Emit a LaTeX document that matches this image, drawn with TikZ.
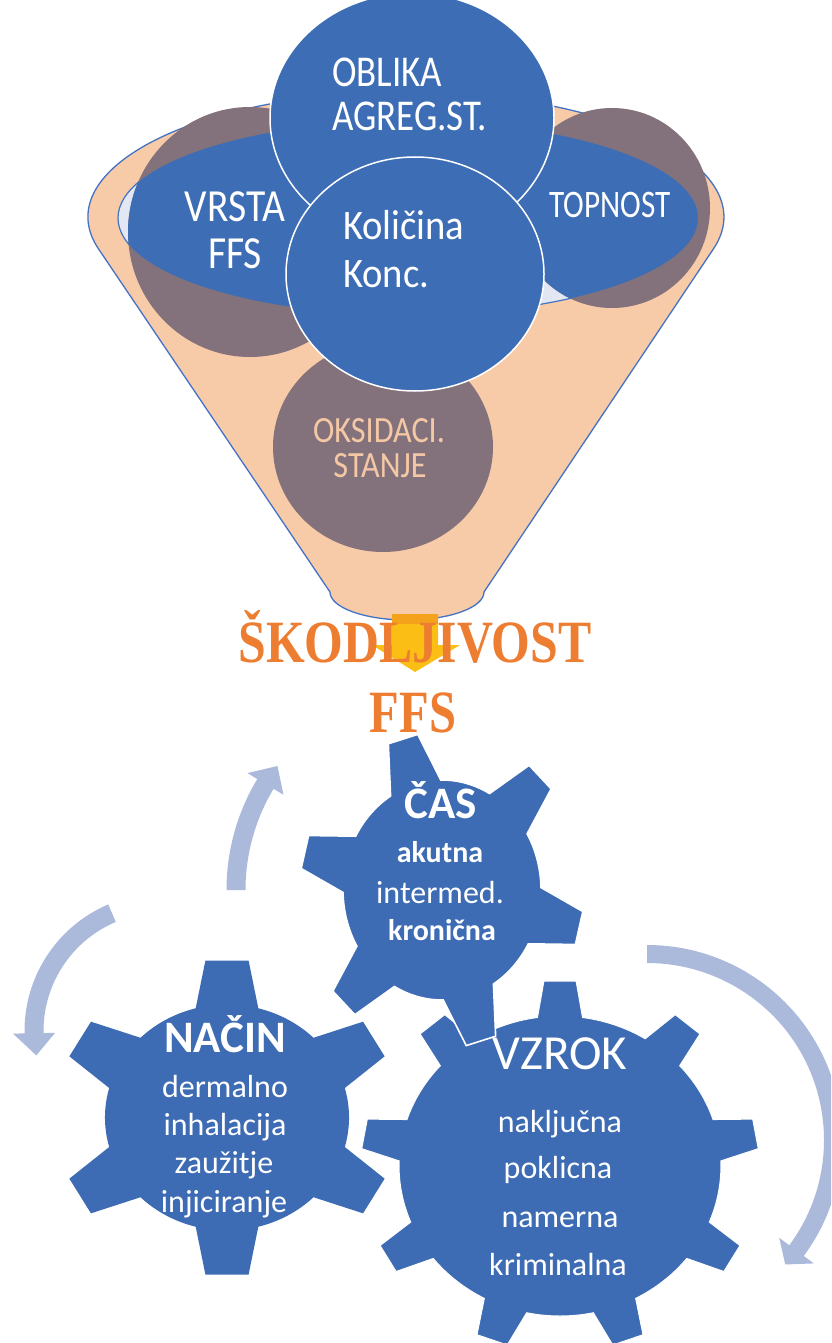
\documentclass[tikz,border=0pt]{standalone}
\usepackage{fontspec}
\setmainfont{Carlito}
\newfontfamily\titlefont{Liberation Serif}
\definecolor{cblue}{RGB}{61,109,180}
\definecolor{gblue}{RGB}{61,108,180}
\definecolor{peach}{RGB}{248,203,168}
\definecolor{mauve}{RGB}{131,114,123}
\definecolor{pale}{RGB}{226,231,243}
\definecolor{fline}{RGB}{68,114,196}
\definecolor{arrowblue}{RGB}{171,185,219}
\definecolor{titleorange}{RGB}{237,125,49}
\definecolor{gold}{RGB}{251,190,20}
\definecolor{goldtop}{RGB}{244,162,28}
\definecolor{oksitext}{RGB}{245,200,165}
\newcommand\fs[1]{\fontsize{#1}{#1}\selectfont}
\newcommand\cnd[2]{\scalebox{#1}[1]{#2}}
% gear: style, center, xscale, first angle, N, rb, R, base half width, outer half width
\newcommand\drawgear[9]{%
  \pgfmathsetmacro\gstep{360/#5}%
  \pgfmathsetmacro\gab{asin(#8/#6)}%
  \pgfmathsetmacro\gao{atan(#9/#7)}%
  \pgfmathsetmacro\gRp{veclen(#7,#9)}%
  \pgfmathsetmacro\gsecond{#4+\gstep}%
  \pgfmathsetmacro\glast{#4+(#5-1)*\gstep}%
  \pgfmathsetmacro\gstart{#4-\gab}%
  \begin{scope}[shift={(#2)},xscale=#3]
    \path[#1] (\gstart:#6) \foreach \t in {#4,\gsecond,...,\glast}{%
      -- ({\t-\gao}:\gRp) -- ({\t+\gao}:\gRp) -- ({\t+\gab}:#6)
      arc[start angle={\t+\gab}, end angle={\t+\gstep-\gab}, radius=#6]} -- cycle;
  \end{scope}}
% curved arrow: style, center, r, half width, start, head base, tip, head half width
\newcommand\curvarrow[8]{%
  \pgfmathsetmacro\aro{#3+#4}\pgfmathsetmacro\ari{#3-#4}%
  \pgfmathsetmacro\aho{#3+#8}\pgfmathsetmacro\ahi{#3-#8}%
  \begin{scope}[shift={(#2)}]
    \path[#1] (#5:\aro) arc[start angle=#5, end angle=#6, radius=\aro]
      -- (#6:\aho) -- (#7:#3) -- (#6:\ahi) -- (#6:\ari)
      arc[start angle=#6, end angle=#5, radius=\ari] -- cycle;
  \end{scope}}
\begin{document}
\begin{tikzpicture}[x=1pt,y=1pt,
  lbl/.style={inner sep=0pt, outer sep=0pt, text=white, anchor=base},
  lblw/.style={lbl, anchor=base west},
  gearfill/.style={fill=gblue},
  arrowfill/.style={fill=arrowblue}]
\useasboundingbox (0,0) rectangle (831,-1343);
\clip (0,0) rectangle (831,-1343);
\fill[white] (0,0) rectangle (831,-1343);

% ---------- funnel ----------
\path[fill=peach, draw=fline, line width=1.3pt]
  (98.6,-249) arc[start angle=194.85, end angle=-14.85, x radius=318, y radius=125]
  -- (484,-592) arc[start angle=0, end angle=-180, x radius=77, y radius=28] -- cycle;
\path[fill=pale, draw=fline, line width=1.2pt] (408,-218) ellipse[x radius=290, y radius=97];

% circles under the funnel
\fill[mauve] (250,-232) ellipse[x radius=122, y radius=125];
\fill[mauve] (612,-208) ellipse[x radius=98, y radius=100];
\fill[mauve] (383,-447) ellipse[x radius=110, y radius=105];
\begin{scope}
  \clip (408,-218) ellipse[x radius=290, y radius=97];
  \fill[cblue] (250,-232) ellipse[x radius=122, y radius=125];
  \fill[cblue] (612,-208) ellipse[x radius=98, y radius=100];
\end{scope}

% circles on top
\path[fill=cblue, draw=white, line width=1.5pt] (412,-118) ellipse[x radius=142, y radius=125];
\path[fill=cblue, draw=white, line width=1.5pt] (415,-274) ellipse[x radius=129, y radius=117];

% funnel labels
\node[lblw] (oblika) at (332,-87) {\fs{44}\cnd{0.84}{OBLIKA}};
\node[lblw] (agreg) at (332,-131) {\fs{44}\cnd{0.84}{AGREG.ST.}};
\node[lbl] (vrsta) at (235,-222) {\fs{46}\cnd{0.86}{VRSTA}};
\node[lbl] (ffs) at (235,-268) {\fs{46}\cnd{0.86}{FFS}};
\node[lbl] (topnost) at (610,-218) {\fs{39}\cnd{0.8}{TOPNOST}};
\node[lblw] (kolicina) at (343,-239) {\fs{42}\cnd{0.92}{Količina}};
\node[lblw] (konc) at (343,-287) {\fs{42}\cnd{0.92}{Konc.}};
\node[lbl, text=oksitext] (oksi) at (379,-442) {\fs{37}\cnd{0.87}{OKSIDACI.}};
\node[lbl, text=oksitext] (stanje) at (380,-477) {\fs{37}\cnd{0.87}{STANJE}};

% ---------- down arrow and title ----------
\fill[gold] (392,-614) -- (438,-614) -- (438,-645) -- (460,-645) -- (415,-672)
  -- (372,-645) -- (392,-645) -- cycle;
\fill[goldtop] (392,-614) rectangle (438,-624);
\node[lbl, text=titleorange] (title1) at (415,-662) {\titlefont\bfseries\fs{60}\cnd{0.83}{ŠKODLJIVOST}};
\node[lbl, text=titleorange] (title2) at (413,-732) {\titlefont\bfseries\fs{60}\cnd{0.81}{FFS}};

% ---------- curved arrows ----------
\curvarrow{arrowfill}{442,-890}{206}{9.5}{180}{149}{143}{21}
\curvarrow{arrowfill}{162,-1031}{128}{9.5}{113}{181}{191}{21}
\curvarrow{arrowfill}{647,-1140}{186}{9}{90}{-36.5}{-42}{21.5}

% ---------- gears ----------
\drawgear{gearfill, draw=white, line width=1pt}{560,-1166}{1.073}{90}{9}{150}{185}{21}{15}
\drawgear{gearfill, draw=white, line width=1.6pt}{442,-890}{0.9}{106}{6}{110}{157}{29}{17}
\drawgear{gearfill}{227,-1117.5}{1.08}{90}{6}{113}{157}{29}{20}

% gear labels
\node[lbl] (cas) at (441,-818) {\fs{45}\bfseries ČAS};
\node[lbl] (akutna) at (440,-862) {\fs{30}\bfseries akutna};
\node[lbl] (intermed) at (440,-903) {\fs{32}intermed.};
\node[lbl] (kronicna) at (442,-940) {\fs{30}\bfseries kronična};

\node[lbl] (nacin) at (225,-1052) {\fs{45}\bfseries NAČIN};
\node[lbl] (dermalno) at (225,-1097) {\fs{32}dermalno};
\node[lbl] (inhalacija) at (225,-1135) {\fs{32}inhalacija};
\node[lbl] (zauzitje) at (224,-1173) {\fs{32}zaužitje};
\node[lbl] (injiciranje) at (224,-1212) {\fs{32}injiciranje};

\node[lbl] (vzrok) at (560,-1069) {\fs{49}VZROK};
\node[lbl] (nakljucna) at (560,-1132) {\fs{32}naključna};
\node[lbl] (poklicna) at (558,-1178) {\fs{32}poklicna};
\node[lbl] (namerna) at (560,-1227) {\fs{32}namerna};
\node[lbl] (kriminalna) at (558,-1275) {\fs{32}kriminalna};
\end{tikzpicture}
\end{document}
